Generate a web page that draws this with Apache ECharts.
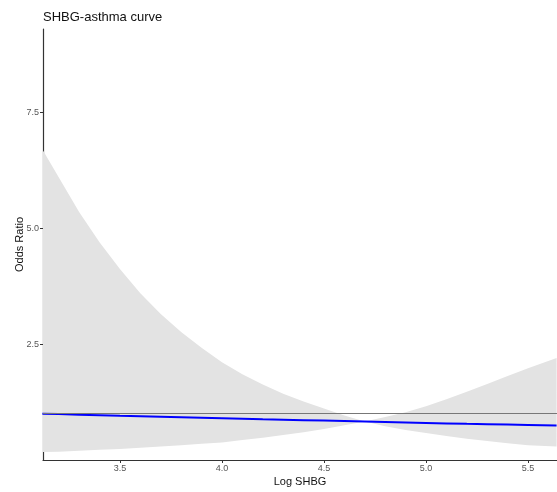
<!DOCTYPE html>
<html>
<head>
<meta charset="utf-8">
<script src="https://cdn.jsdelivr.net/npm/echarts@6/dist/echarts.min.js"></script>
<style>
  html, body { margin: 0; padding: 0; background: #fff; }
  #chart { width: 557px; height: 492px; }
</style>
</head>
<body>
<div id="chart"></div>
<script>
// log SHBG values along the curve
var logShbg = [3.12, 3.2, 3.3, 3.4, 3.5, 3.6, 3.7, 3.8, 3.9, 4.0, 4.1, 4.2, 4.3,
  4.4, 4.5, 4.6, 4.7, 4.8, 4.9, 5.0, 5.1, 5.2, 5.3, 5.4, 5.5, 5.64];
// fitted odds ratio (blue line)
var oddsRatio = [1.0, 0.99, 0.979, 0.968, 0.956, 0.945, 0.934, 0.923, 0.912, 0.901,
  0.891, 0.88, 0.87, 0.86, 0.85, 0.84, 0.83, 0.82, 0.81, 0.80, 0.79, 0.78, 0.773,
  0.764, 0.755, 0.743];
// confidence band
var lowerCI = [0.17, 0.18, 0.2, 0.22, 0.24, 0.265, 0.29, 0.32, 0.35, 0.38, 0.43,
  0.48, 0.54, 0.6, 0.67, 0.75, 0.83, 0.73, 0.65, 0.58, 0.52, 0.46, 0.41, 0.36,
  0.32, 0.29];
var upperCI = [6.7, 6.1, 5.35, 4.7, 4.12, 3.6, 3.15, 2.76, 2.42, 2.11, 1.85, 1.63,
  1.43, 1.26, 1.11, 0.96, 0.83, 0.93, 1.03, 1.16, 1.31, 1.47, 1.64, 1.81, 1.98, 2.2];
var xTicks = [3.5, 4.0, 4.5, 5.0, 5.5];
var yTicks = [2.5, 5.0, 7.5];
var refLine = 1;

var chart = echarts.init(document.getElementById("chart"));

var pairs = function (ys) {
  return logShbg.map(function (x, i) { return [x, ys[i]]; });
};

chart.setOption({
  animation: false,
  textStyle: { fontFamily: "Liberation Sans, Arial, sans-serif" },
  title: {
    text: "SHBG-asthma curve",
    left: 38,
    top: 6,
    textStyle: { fontSize: 13, fontWeight: "normal", color: "#111" }
  },
  grid: { left: 43, right: 0, top: 29, bottom: 32, outerBoundsMode: "none", containLabel: false },
  xAxis: {
    type: "value",
    min: 3.123,
    max: 5.642,
    name: "Log SHBG",
    nameLocation: "middle",
    nameGap: 16,
    nameMoveOverlap: false,
    nameTextStyle: { fontSize: 11, color: "#111" },
    axisLine: { lineStyle: { color: "#333", width: 1.2 } },
    axisTick: { length: 3, lineStyle: { color: "#333" }, customValues: xTicks },
    axisLabel: {
      fontSize: 9, color: "#555", margin: 4,
      customValues: xTicks,
      formatter: function (v) { return v.toFixed(1); }
    },
    splitLine: { show: false }
  },
  yAxis: {
    type: "value",
    min: 0,
    max: 9.3,
    name: "Odds Ratio",
    nameLocation: "middle",
    nameGap: 18,
    nameMoveOverlap: false,
    nameTextStyle: { fontSize: 11, color: "#111" },
    axisLine: { show: true, lineStyle: { color: "#333", width: 1.2 } },
    axisTick: { show: true, length: 3, lineStyle: { color: "#333" }, customValues: yTicks },
    axisLabel: {
      fontSize: 9, color: "#555", margin: 4,
      customValues: yTicks,
      formatter: function (v) { return v.toFixed(1); }
    },
    splitLine: { show: false }
  },
  series: [
    {
      // confidence band drawn as one polygon: upper edge then lower edge backwards
      type: "custom",
      silent: true,
      data: [0],
      renderItem: function (params, api) {
        var pts = [];
        for (var i = 0; i < logShbg.length; i++) {
          pts.push(api.coord([logShbg[i], upperCI[i]]));
        }
        for (var j = logShbg.length - 1; j >= 0; j--) {
          pts.push(api.coord([logShbg[j], lowerCI[j]]));
        }
        return {
          type: "polygon",
          shape: { points: pts, smooth: 0 },
          style: { fill: "#e3e3e3" }
        };
      },
      clip: true,
      z: 1
    },
    {
      type: "line",
      data: pairs(oddsRatio),
      symbol: "none",
      lineStyle: { color: "#0000ff", width: 2 },
      markLine: {
        silent: true,
        symbol: "none",
        label: { show: false },
        lineStyle: { color: "#777", width: 1, type: "solid" },
        data: [{ yAxis: refLine }]
      },
      z: 3
    }
  ]
});
</script>
</body>
</html>
